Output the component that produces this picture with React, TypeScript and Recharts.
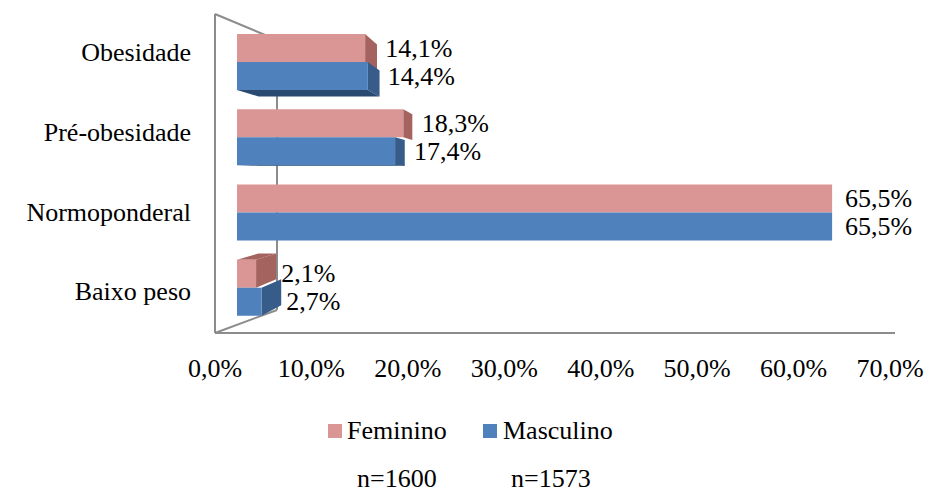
import React from 'react';
import { BarChart, Bar, XAxis, YAxis, LabelList } from 'recharts';

const categories = ['Obesidade', 'Pré-obesidade', 'Normoponderal', 'Baixo peso'];
const feminino = [14.1, 18.3, 65.5, 2.1];
const masculino = [14.4, 17.4, 65.5, 2.7];
const xTicks = [0, 10, 20, 30, 40, 50, 60, 70];
const sampleSizes = ['n=1600', 'n=1573'];

const data = categories.map((name, i) => ({ name, feminino: feminino[i], masculino: masculino[i] }));

const FONT = "'Liberation Serif', 'DejaVu Serif', 'Times New Roman', serif";
const FS = 26;
const PINK = '#d99694';
const PINK_DARK = '#a4635f';
const BLUE = '#4f81bd';
const BLUE_DARK = '#375c89';
const BLUE_DARKER = '#2b4a70';

// fake perspective for the 3D look
const VX = 524;
const VY = 175;
const T = 0.075;
const backX = (px: number) => px + T * (VX - px);
const backY = (py: number) => py + T * (VY - py);
const pts = (arr: number[][]) => arr.map((p) => p.join(',')).join(' ');

const fmt = (v: number) => v.toFixed(1).replace('.', ',') + '%';

function make3D(front: string, side: string, cap: string, face: 'top' | 'bottom') {
  return (props: any) => {
    const { x, y, width, height } = props;
    const x0 = x;
    const x1 = x + width;
    const y0 = y;
    const y1 = y + height;
    const parts: React.ReactNode[] = [];
    if (x1 < VX) {
      parts.push(
        <polygon key="s" fill={side} points={pts([[x1, y0], [backX(x1), backY(y0)], [backX(x1), backY(y1)], [x1, y1]])} />
      );
    }
    if (face === 'top' && y0 > VY + 20) {
      parts.push(
        <polygon key="t" fill={cap} points={pts([[x0, y0], [x1, y0], [backX(x1), backY(y0)], [backX(x0), backY(y0)]])} />
      );
    }
    if (face === 'bottom' && y1 < VY) {
      parts.push(
        <polygon key="b" fill={cap} points={pts([[x0, y1], [x1, y1], [backX(x1), backY(y1)], [backX(x0), backY(y1)]])} />
      );
    }
    parts.push(<rect key="f" x={x0} y={y0} width={width} height={height} fill={front} />);
    return <g>{parts}</g>;
  };
}

const ValueLabel = (props: any) => {
  const { x, y, width, height, value } = props;
  const xe = x + width;
  const sideW = Math.max(0, T * (VX - xe));
  return (
    <text x={xe + 13 + sideW * 0.6} y={y + height / 2} dominantBaseline="central" fontFamily={FONT} fontSize={FS} fill="#000">
      {fmt(value)}
    </text>
  );
};

// tick labels sit on the front edge of the floor, bars on the back plane
const XTick = ({ x, y, payload }: any) => (
  <text x={215 + (x - 237) * (675 / 636)} y={y + 43} textAnchor="middle" dominantBaseline="central" fontFamily={FONT} fontSize={FS} fill="#000">
    {fmt(payload.value)}
  </text>
);

const YTick = ({ x, y, payload }: any) => (
  <text x={x} y={212 + (y - 212) * 1.06} textAnchor="end" dominantBaseline="central" fontFamily={FONT} fontSize={FS} fill="#000">
    {payload.value}
  </text>
);

export default function App() {
  const frame = '#8c8c8c';
  return (
    <div style={{ position: 'absolute', left: 0, top: 0, width: 929, height: 493, background: '#fff', fontFamily: FONT }}>
      <svg width={929} height={493} style={{ position: 'absolute', left: 0, top: 0 }}>
        <line x1={215} y1={14} x2={215} y2={333} stroke={frame} strokeWidth={2} />
        <line x1={215} y1={14} x2={277} y2={40} stroke={frame} strokeWidth={2} />
        <line x1={277} y1={40} x2={277} y2={310} stroke={frame} strokeWidth={2} />
        <line x1={215} y1={333} x2={277} y2={310} stroke={frame} strokeWidth={2} />
        <line x1={215} y1={333} x2={895} y2={333} stroke={frame} strokeWidth={2} />
      </svg>
      <div style={{ position: 'absolute', left: 0, top: 0 }}>
        <BarChart
          width={929}
          height={493}
          data={data}
          layout="vertical"
          margin={{ top: 24, right: 39, bottom: 128, left: 0 }}
          barCategoryGap={10}
          barGap={0}
        >
          <XAxis
            type="number"
            domain={[0, 70]}
            ticks={xTicks}
            interval={0}
            axisLine={false}
            tickLine={false}
            tickSize={0}
            tickMargin={0}
            height={40}
            padding={{ left: 22, right: 17 }}
            tick={<XTick />}
          />
          <YAxis
            type="category"
            dataKey="name"
            width={215}
            axisLine={false}
            tickLine={false}
            tickSize={0}
            tickMargin={24}
            tick={<YTick />}
          />
          <Bar dataKey="feminino" isAnimationActive={false} shape={make3D(PINK, PINK_DARK, PINK_DARK, 'top')}>
            <LabelList dataKey="feminino" content={<ValueLabel />} />
          </Bar>
          <Bar dataKey="masculino" isAnimationActive={false} shape={make3D(BLUE, BLUE_DARK, BLUE_DARKER, 'bottom')}>
            <LabelList dataKey="masculino" content={<ValueLabel />} />
          </Bar>
        </BarChart>
      </div>
      <div style={{ position: 'absolute', left: 328, top: 424, width: 14, height: 14, background: PINK }} />
      <div style={{ position: 'absolute', left: 347, top: 416, fontSize: FS, lineHeight: '30px', color: '#000' }}>Feminino</div>
      <div style={{ position: 'absolute', left: 483, top: 424, width: 14, height: 14, background: BLUE }} />
      <div style={{ position: 'absolute', left: 503, top: 416, fontSize: FS, lineHeight: '30px', color: '#000' }}>Masculino</div>
      <div style={{ position: 'absolute', left: 357, top: 464, fontSize: FS, lineHeight: '30px', color: '#000' }}>{sampleSizes[0]}</div>
      <div style={{ position: 'absolute', left: 511, top: 464, fontSize: FS, lineHeight: '30px', color: '#000' }}>{sampleSizes[1]}</div>
    </div>
  );
}
